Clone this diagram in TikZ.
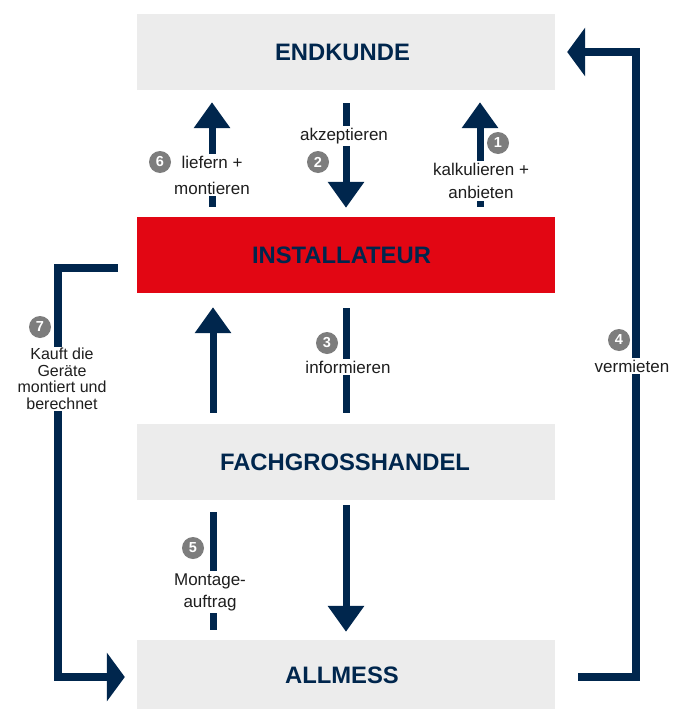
\documentclass[tikz,border=0pt]{standalone}
\usepackage{fontspec}
\setmainfont{Liberation Sans}
\usetikzlibrary{arrows.meta}
\definecolor{navy}{RGB}{0,38,77}
\definecolor{boxgray}{RGB}{236,236,236}
\definecolor{instred}{RGB}{226,6,19}
\definecolor{numgray}{RGB}{125,125,125}
\definecolor{txt}{RGB}{30,30,30}
\begin{document}
\begin{tikzpicture}[x=1pt,y=-1pt,
 box/.style={minimum width=418pt, minimum height=76pt, inner sep=0pt, font=\fontsize{23.8}{24}\selectfont\bfseries, text=navy},
 vshaft/.style={draw=navy, line width=7pt},
 varrow/.style={vshaft, -{Triangle[length=26pt,width=35pt]}},
 carrow/.style={draw=navy, line width=8pt, line join=miter, -{Triangle[length=18pt,width=48pt]}},
 lab/.style={fill=white, text=txt, font=\fontsize{17}{17}\selectfont, align=center, inner sep=2pt},
 num/.style={circle, fill=numgray, text=white, font=\fontsize{14.5}{14.5}\selectfont\bfseries, minimum size=22pt, inner sep=0pt}]
\useasboundingbox (0,0) rectangle (674,709);
\fill[white] (0,0) rectangle (674,709);
% boxes
\node[box, fill=boxgray] (ek) at (346,52) {ENDKUNDE\hspace*{7pt}};
\node[box, fill=instred] (inst) at (346,255) {INSTALLATEUR\hspace*{9pt}};
\node[box, fill=boxgray] (fg) at (346,462) {FACHGROSSHANDEL\hspace*{2pt}};
\node[box, fill=boxgray, minimum height=70pt] (am) at (346,675) {ALLMESS\hspace*{8pt}};
% vertical arrows
\draw[varrow] ([xshift=-134pt,yshift=10pt]inst.north) -- ([xshift=-134pt,yshift=-12pt]ek.south);
\draw[varrow] ([yshift=-13pt]ek.south) -- ([yshift=9pt]inst.north);
\draw[varrow] ([xshift=134pt,yshift=10pt]inst.north) -- ([xshift=134pt,yshift=-12pt]ek.south);
\draw[varrow] ([xshift=-133pt,yshift=11pt]fg.north) -- ([xshift=-133pt,yshift=-14pt]inst.south);
\draw[vshaft] ([yshift=-15pt]inst.south) -- ([yshift=11pt]fg.north);
\draw[vshaft] ([xshift=-133pt,yshift=-12pt]fg.south) -- ([xshift=-133pt,yshift=10pt]am.north);
\draw[varrow] ([yshift=-5pt]fg.south) -- ([yshift=8pt]am.north);
% corner arrows
\draw[carrow] ([xshift=-19pt,yshift=-13pt]inst.west) -- ++(-60,0) |- ([xshift=-12pt,yshift=-2pt]am.west);
\draw[carrow] ([xshift=23pt,yshift=-2pt]am.east) -- ++(58,0) |- ([xshift=12pt]ek.east);
% labels
\node[lab] (l6) at (212,175) {liefern +\\[9pt]montieren};
\node[num] (n6) at (160,162) {6};
\node[lab] (l2) at (344,136) {akzeptieren};
\node[num] (n2) at (318,162) {2};
\node[lab] (l1) at (481,181) {kalkulieren +\\[6pt]anbieten};
\node[num] (n1) at (498,143) {1};
\node[lab] (l3) at (348,367) {informieren};
\node[num] (n3) at (327,343) {3};
\node[lab] (l5) at (210,592) {Montage-\\[5pt]auftrag};
\node[num] (n5) at (193,548) {5};
\node[lab] (l4) at (632,366) {vermieten};
\node[num] (n4) at (619,340) {4};
\node[lab, font=\fontsize{16}{16.5}\selectfont, inner sep=1pt] (l7) at (62,379) {Kauft die\\Geräte\\montiert und\\berechnet};
\node[num] (n7) at (40,327) {7};
\end{tikzpicture}
\end{document}
